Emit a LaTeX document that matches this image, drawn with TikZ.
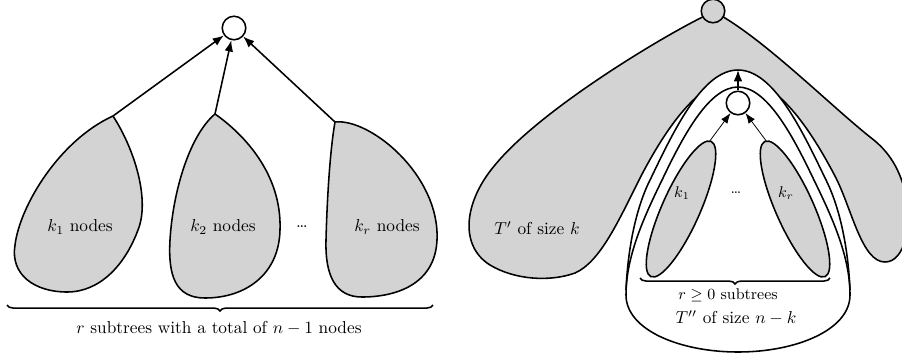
\documentclass[tikz,border=0pt]{standalone}
\usepackage{amsmath,amssymb}
\usetikzlibrary{arrows.meta,decorations.pathreplacing}
\definecolor{treegray}{RGB}{211,211,211}

\begin{document}
\begin{tikzpicture}[x=0.578pt,y=-0.578pt,
    blob/.style={fill=treegray,draw=black,line width=0.9pt},
    vtx/.style={circle,draw=black,line width=0.9pt,inner sep=0pt,minimum size=13.6pt},
    arr/.style={line width=0.9pt,-{Latex[length=6.5pt,width=5pt]}},
    thinarr/.style={line width=0.45pt,-{Latex[length=6pt,width=4.5pt]}},
    brc/.style={decorate,decoration={brace,mirror,amplitude=3.5pt},line width=0.9pt}]
        \useasboundingbox (0,0) rectangle (902,357);
        % left: root with r subtrees
        \node[vtx,fill=white] (root) at (234,28) {};
        \coordinate (t1) at (113,116);
        \coordinate (t2) at (215,114);
        \coordinate (t3) at (335,122);
        \filldraw[blob] (t1) .. controls (135,150) and (150,200) .. (138,230)
          .. controls (125,265) and (100,292) .. (67,292)
          .. controls (35,292) and (10,275) .. (15,245)
          .. controls (20,205) and (60,140) .. (t1) -- cycle;
        \filldraw[blob] (t2) .. controls (245,135) and (282,175) .. (280,230)
          .. controls (279,275) and (245,298) .. (205,298)
          .. controls (175,298) and (168,275) .. (170,240)
          .. controls (173,190) and (190,135) .. (t2) -- cycle;
        \filldraw[blob] (t3) .. controls (370,118) and (440,175) .. (437,240)
          .. controls (435,285) and (395,297) .. (362,297)
          .. controls (335,297) and (325,275) .. (326,240)
          .. controls (327,200) and (330,150) .. (t3) -- cycle;
        \draw[arr] (t1) -- (root);
        \draw[arr] (t2) -- (root);
        \draw[arr] (t3) -- (root);
        \node (n1) at (80,227) {$k_1$ nodes};
        \node (n2) at (223,227) {$k_2$ nodes};
        \node (ndots) at (302,227) {\dots};
        \node (nr) at (387,227) {$k_r$ nodes};
        \coordinate (bl) at (7,305);
        \coordinate (br) at (433,305);
        \draw[brc] (bl) -- (br);
        \node (total) at (219,328) {$r$ subtrees with a total of $n-1$ nodes};
        % right: T' and T''
        \coordinate (tl) at (702.8,16.9);
        \coordinate (tr) at (723.2,16.9);
        \filldraw[blob] (tl) .. controls (660,38) and (540,110) .. (495,165)
          .. controls (465,200) and (458,245) .. (490,265)
          .. controls (515,280) and (550,282) .. (575,273)
          .. controls (600,262) and (618,222) .. (640,178)
          .. controls (666,128) and (700,78) .. (738,78)
          .. controls (776,78) and (810,128) .. (836,178)
          .. controls (852,210) and (862,262) .. (885,262)
          .. controls (905,262) and (912,225) .. (906,195)
          .. controls (900,170) and (890,152) .. (870,137)
          .. controls (830,105) and (770,45) .. (tr) -- cycle;
        \filldraw[fill=white,line width=0.9pt] (626,290)
          .. controls (628,245) and (637,205) .. (651,178)
          .. controls (675,128) and (703,70) .. (738,70)
          .. controls (773,70) and (801,128) .. (825,178)
          .. controls (839,205) and (848,245) .. (850,290);
        \draw[line width=0.9pt] (738,87)
          .. controls (710,87) and (685,132) .. (663,178)
          .. controls (645,215) and (626,255) .. (626,295)
          .. controls (626,330) and (680,352) .. (738,352)
          .. controls (796,352) and (850,330) .. (850,295)
          .. controls (850,255) and (831,215) .. (813,178)
          .. controls (791,132) and (766,87) .. (738,87) -- cycle;
        \filldraw[blob,rotate around={66:(681,209)}] (681,209) ellipse (74 and 19);
        \filldraw[blob,rotate around={114:(795,209)}] (795,209) ellipse (74 and 19);
        \node[vtx,fill=treegray] (top) at (713,11) {};
        \node[vtx,fill=white] (sub) at (738,103) {};
        \coordinate (att) at (738,70);
        \draw[arr] (sub) -- (att);
        \coordinate (k1top) at (709,142);
        \coordinate (krtop) at (767,142);
        \draw[thinarr] (k1top) -- (sub);
        \draw[thinarr] (krtop) -- (sub);
        \node[font=\small] (m1) at (682,193) {$k_1$};
        \node[font=\small] (mdots) at (736,193) {\dots};
        \node[font=\small] (mr) at (786,193) {$k_r$};
        \node (tp) at (537,228) {$T'$ of size $k$};
        \coordinate (sbl) at (640,278);
        \coordinate (sbr) at (830,278);
        \draw[brc] (sbl) -- (sbr);
        \node[font=\small] (rsub) at (728,295) {$r\geq 0$ subtrees};
        \node (tpp) at (736,318) {$T''$ of size $n-k$};
\end{tikzpicture}
\end{document}
